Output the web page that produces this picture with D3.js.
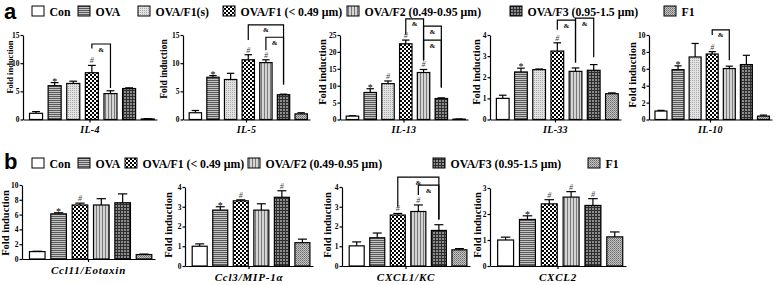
<!DOCTYPE html>
<meta charset="utf-8">
<style>
  body { margin: 0; background: #fff; }
  svg { display: block; }
  text { font-family: "Liberation Serif", "Times New Roman", serif; }
  .axis path, .axis line { stroke: #000; stroke-width: 1.2; }
  .axis text { font-family: "Liberation Serif", serif; font-weight: bold; font-size: 7.5px; fill: #000; }
</style>
<body>
<div id="chart"></div>
<script src="https://cdn.jsdelivr.net/npm/d3@7"></script>
<script>
  // groups / legends
  var groupsA = ["Con", "OVA", "OVA/F1(s)", "OVA/F1 (< 0.49 μm)", "OVA/F2 (0.49-0.95 μm)", "OVA/F3 (0.95-1.5 μm)", "F1"];
  var groupsB = ["Con", "OVA", "OVA/F1 (< 0.49 μm)", "OVA/F2 (0.49-0.95 μm)", "OVA/F3 (0.95-1.5 μm)", "F1"];

  var genesA = ["IL-4", "IL-5", "IL-13", "IL-33", "IL-10"];
  var genesB = ["Ccl11/Eotaxin", "Ccl3/MIP-1α", "CXCL1/KC", "CXCL2"];

  // panel a values (mean, sem)
  var il4 = [1.1, 6.0, 6.4, 8.3, 4.6, 5.5, 0.1];
  var il4Err = [0.3, 0.55, 0.4, 1.3, 0.5, 0.12, 0.05];
  var il5 = [1.2, 7.5, 7.1, 10.6, 10.1, 4.4, 1.0];
  var il5Err = [0.4, 0.3, 1.1, 0.9, 0.5, 0.1, 0.2];
  var il13 = [1.0, 8.0, 10.6, 22.4, 13.9, 6.2, 0.1];
  var il13Err = [0.1, 1.1, 0.8, 1.1, 0.9, 0.2, 0.05];
  var il33 = [1.0, 2.25, 2.36, 3.24, 2.28, 2.33, 1.22];
  var il33Err = [0.15, 0.18, 0.03, 0.39, 0.16, 0.27, 0.04];
  var il10 = [1.0, 5.9, 7.4, 7.75, 6.03, 6.5, 0.4];
  var il10Err = [0.08, 0.45, 1.6, 0.28, 0.28, 1.1, 0.12];

  // panel b values
  var ccl11 = [1.0, 6.1, 7.3, 7.3, 7.6, 0.6];
  var ccl11Err = [0.05, 0.15, 0.25, 0.85, 1.2, 0.06];
  var ccl3 = [1.0, 2.83, 3.3, 2.83, 3.48, 1.18];
  var ccl3Err = [0.12, 0.17, 0.05, 0.32, 0.33, 0.18];
  var cxcl1 = [1.02, 1.43, 2.58, 2.76, 1.8, 0.82];
  var cxcl1Err = [0.2, 0.24, 0.08, 0.33, 0.29, 0.06];
  var cxcl2 = [1.0, 1.79, 2.39, 2.65, 2.33, 1.12];
  var cxcl2Err = [0.11, 0.14, 0.16, 0.21, 0.26, 0.19];

  // significance marks above bars
  var il4Marks = ["", "*", "", "#", "", "", ""];
  var il5Marks = ["", "*", "", "#", "#", "", ""];
  var il13Marks = ["", "*", "#", "#", "#", "", ""];
  var il33Marks = ["", "*", "", "#", "", "", ""];
  var il10Marks = ["", "*", "", "#", "", "", ""];
  var ccl11Marks = ["", "*", "#", "", "", ""];
  var ccl3Marks = ["", "*", "#", "", "#", ""];
  var cxcl1Marks = ["", "", "#", "#", "", ""];
  var cxcl2Marks = ["", "*", "#", "#", "#", ""];

  // "&" brackets: [from bar, to bar, top value, left leg end, right leg end]
  var il4Sig = [[3, 4, 13.4, 12.6, 5.6]];
  var il5Sig = [[3, 5, 16.8, 14.1, 6.2], [4, 5, 14.6, 12.3, 6.2]];
  var il13Sig = [[3, 4, 29.8, 25.2, 17.5], [4, 5, 27.6, 17.5, 9.5], [4, 5, 23.5, 17.5, 9.5]];
  var il33Sig = [[3, 4, 4.7, 4.25, 2.7], [4, 5, 4.8, 2.7, 2.95]];
  var il10Sig = [[3, 4, 10.6, 10.0, 7.0]];
  var cxcl1Sig = [[2, 4, 4.5, 3.0, 2.35], [3, 4, 4.1, 3.6, 2.35]];

  var maxA = [15, 15, 25, 4, 10], stepA = [5, 5, 5, 1, 2];
  var maxB = [10, 4, 4, 3], stepB = [2, 1, 1, 1];

  // layout of the sub-charts
  var layoutA = [
    { x0: 23, x1: 157, labelX: 9.5, labelY: 67, labelSize: 8.5 },
    { x0: 183, x1: 310, labelX: 164, labelY: 69, labelSize: 9.5 },
    { x0: 340, x1: 468, labelX: 322, labelY: 72, labelSize: 10.5 },
    { x0: 490, x1: 621, labelX: 476.5, labelY: 72, labelSize: 10.5 },
    { x0: 649, x1: 772, labelX: 632.5, labelY: 75, labelSize: 10.5 }
  ];
  var layoutB = [
    { x0: 22, x1: 155, top: 185, bottom: 259, labelX: 5.5, labelY: 223, labelSize: 10.5 },
    { x0: 185, x1: 313, top: 187, bottom: 266, labelX: 168, labelY: 225, labelSize: 10.5 },
    { x0: 342, x1: 470, top: 187, bottom: 266, labelX: 327.5, labelY: 225, labelSize: 10.5 },
    { x0: 490, x1: 626, top: 188, bottom: 266, labelX: 477, labelY: 225, labelSize: 10.5 }
  ];
  var legendXA = [32, 78, 138, 223, 347, 510, 664];
  var legendXB = [32, 78, 125, 248, 433, 588];

  var W = 778, H = 285;
  var svg = d3.select("#chart").append("svg").attr("width", W).attr("height", H);
  var defs = svg.append("defs");

  function pattern(id, w, h, bg, rects) {
    var p = defs.append("pattern").attr("id", id)
      .attr("patternUnits", "userSpaceOnUse").attr("width", w).attr("height", h);
    p.append("rect").attr("width", w).attr("height", h).attr("fill", bg);
    rects.forEach(function (r) {
      p.append("rect").attr("x", r[0]).attr("y", r[1]).attr("width", r[2]).attr("height", r[3]).attr("fill", r[4]);
    });
  }
  pattern("pOva", 2, 2, "#c4c4c4", [[0, 0, 2, 1, "#5a5a5a"]]);
  pattern("pF1s", 2, 2, "#e2e2e2", [[0, 0, 1, 1, "#aaaaaa"]]);
  pattern("pF1", 4, 4, "#ffffff", [[0, 0, 2, 2, "#000"], [2, 2, 2, 2, "#000"]]);
  pattern("pF2", 3, 3, "#d4d4d4", [[0, 0, 1, 3, "#7a7a7a"]]);
  pattern("pF3", 3, 3, "#8c8c8c", [[0, 0, 1, 3, "#2e2e2e"], [0, 0, 3, 1, "#2e2e2e"]]);
  pattern("pOnly", 2, 2, "#c2c2c2", [[0, 0, 1, 1, "#6e6e6e"], [1, 1, 1, 1, "#8a8a8a"]]);

  var fills = {
    "Con": "#ffffff",
    "OVA": "url(#pOva)",
    "OVA/F1(s)": "url(#pF1s)",
    "OVA/F1 (< 0.49 μm)": "url(#pF1)",
    "OVA/F2 (0.49-0.95 μm)": "url(#pF2)",
    "OVA/F3 (0.95-1.5 μm)": "url(#pF3)",
    "F1": "url(#pOnly)"
  };

  function drawLegend(groups, xs, baseY) {
    var g = svg.append("g").attr("class", "legend");
    groups.forEach(function (name, i) {
      g.append("rect").attr("x", xs[i]).attr("y", baseY - 10).attr("width", 12).attr("height", 10)
        .attr("fill", fills[name]).attr("stroke", "#000").attr("stroke-width", 1);
      g.append("text").attr("x", xs[i] + 17.5).attr("y", baseY)
        .style("font-size", "11.8px").style("font-weight", "bold").text(name);
    });
  }

  function drawChart(cfg) {
    var g = svg.append("g");
    var x = d3.scaleBand().domain(cfg.groups).range([cfg.x0, cfg.x1])
      .paddingInner(cfg.pin).paddingOuter(0.25).align(0.7);
    var y = d3.scaleLinear().domain([0, cfg.max]).range([cfg.bottom, cfg.top]);
    var bw = x.bandwidth();

    var rows = cfg.groups.map(function (name, i) {
      return { name: name, v: cfg.mean[i], e: cfg.err[i], mark: cfg.marks[i] };
    });

    // error bars (upper only)
    var eb = g.selectAll(".err").data(rows).enter().append("g").attr("class", "err")
      .attr("stroke", "#000").attr("stroke-width", 1.2);
    eb.append("line")
      .attr("x1", d => x(d.name) + bw / 2).attr("x2", d => x(d.name) + bw / 2)
      .attr("y1", d => y(d.v)).attr("y2", d => y(d.v + d.e));
    eb.append("line")
      .attr("x1", d => x(d.name) + bw * 0.2).attr("x2", d => x(d.name) + bw * 0.8)
      .attr("y1", d => y(d.v + d.e)).attr("y2", d => y(d.v + d.e));

    g.selectAll(".bar").data(rows).enter().append("rect").attr("class", "bar")
      .attr("x", d => x(d.name)).attr("width", bw)
      .attr("y", d => y(d.v)).attr("height", d => y(0) - y(d.v))
      .attr("fill", d => fills[d.name]).attr("stroke", "#000").attr("stroke-width", 1.2);

    g.selectAll(".mark").data(rows.filter(d => d.mark)).enter().append("text")
      .attr("x", d => x(d.name) + bw / 2)
      .attr("y", d => y(d.v + d.e) - (d.mark == "*" ? -2 : 2))
      .attr("text-anchor", "middle")
      .style("font-size", d => d.mark == "*" ? "10px" : "8px")
      .style("font-style", d => d.mark == "#" ? "italic" : "normal")
      .style("fill", d => d.mark == "#" ? "#444" : "#000")
      .text(d => d.mark);

    // & brackets
    (cfg.sig || []).forEach(function (s) {
      var xa = x(cfg.groups[s[0]]) + bw / 2, xb = x(cfg.groups[s[1]]) + bw / 2;
      g.append("path")
        .attr("d", "M" + xa + "," + y(s[3]) + "V" + y(s[2]) + "H" + xb + "V" + y(s[4]))
        .attr("fill", "none").attr("stroke", "#000").attr("stroke-width", 1.2);
      g.append("text").attr("x", (xa + xb) / 2).attr("y", y(s[2]) + 7.5)
        .attr("text-anchor", "middle").style("font-size", "7px").style("font-weight", "bold")
        .text("&");
    });

    g.append("g").attr("class", "axis")
      .attr("transform", "translate(" + cfg.x0 + ",0)")
      .call(d3.axisLeft(y).tickValues(d3.range(0, cfg.max + cfg.step / 2, cfg.step))
        .tickSize(2.5).tickSizeOuter(0).tickPadding(1).tickFormat(d3.format("d")));

    var xAxis = g.append("g").attr("class", "axis")
      .attr("transform", "translate(0," + cfg.bottom + ")")
      .call(d3.axisBottom(d3.scaleBand().domain([cfg.gene]).range([cfg.x0, cfg.x1]))
        .tickSize(3).tickSizeOuter(0).tickPadding(cfg.tickPad));
    xAxis.selectAll("text")
      .style("font-size", cfg.geneSize + "px").style("font-style", "italic")
      .style("letter-spacing", cfg.geneSpacing + "px");

    g.append("text")
      .attr("transform", "translate(" + cfg.labelX + "," + cfg.labelY + ") rotate(-90)")
      .attr("text-anchor", "middle").attr("dominant-baseline", "central")
      .style("font-size", cfg.labelSize + "px").style("font-weight", "bold")
      .text("Fold induction");
  }

  // panel letters
  svg.append("text").attr("x", 4).attr("y", 19).style("font-family", "Liberation Sans, Arial, sans-serif")
    .style("font-size", "22px").style("font-weight", "bold").text("a");
  svg.append("text").attr("x", 4).attr("y", 169).style("font-family", "Liberation Sans, Arial, sans-serif")
    .style("font-size", "22px").style("font-weight", "bold").text("b");

  drawLegend(groupsA, legendXA, 16);
  drawLegend(groupsB, legendXB, 168);

  var seriesA = [[il4, il4Err, il4Marks, il4Sig], [il5, il5Err, il5Marks, il5Sig], [il13, il13Err, il13Marks, il13Sig],
    [il33, il33Err, il33Marks, il33Sig], [il10, il10Err, il10Marks, il10Sig]];
  genesA.forEach(function (gene, i) {
    var L = layoutA[i];
    drawChart({
      gene: gene, groups: groupsA, mean: seriesA[i][0], err: seriesA[i][1], marks: seriesA[i][2], sig: seriesA[i][3],
      max: maxA[i], step: stepA[i], x0: L.x0, x1: L.x1, top: 35, bottom: 119.5,
      pin: 0.3, labelX: L.labelX, labelY: L.labelY, labelSize: L.labelSize,
      geneSize: 10, geneSpacing: 0.3, tickPad: 3
    });
  });

  var seriesB = [[ccl11, ccl11Err, ccl11Marks, null], [ccl3, ccl3Err, ccl3Marks, null],
    [cxcl1, cxcl1Err, cxcl1Marks, cxcl1Sig], [cxcl2, cxcl2Err, cxcl2Marks, null]];
  genesB.forEach(function (gene, i) {
    var L = layoutB[i];
    drawChart({
      gene: gene, groups: groupsB, mean: seriesB[i][0], err: seriesB[i][1], marks: seriesB[i][2], sig: seriesB[i][3],
      max: maxB[i], step: stepB[i], x0: L.x0, x1: L.x1, top: L.top, bottom: L.bottom,
      pin: 0.27, labelX: L.labelX, labelY: L.labelY, labelSize: L.labelSize,
      geneSize: 11, geneSpacing: 0.8, tickPad: 4
    });
  });
</script>
</body>
